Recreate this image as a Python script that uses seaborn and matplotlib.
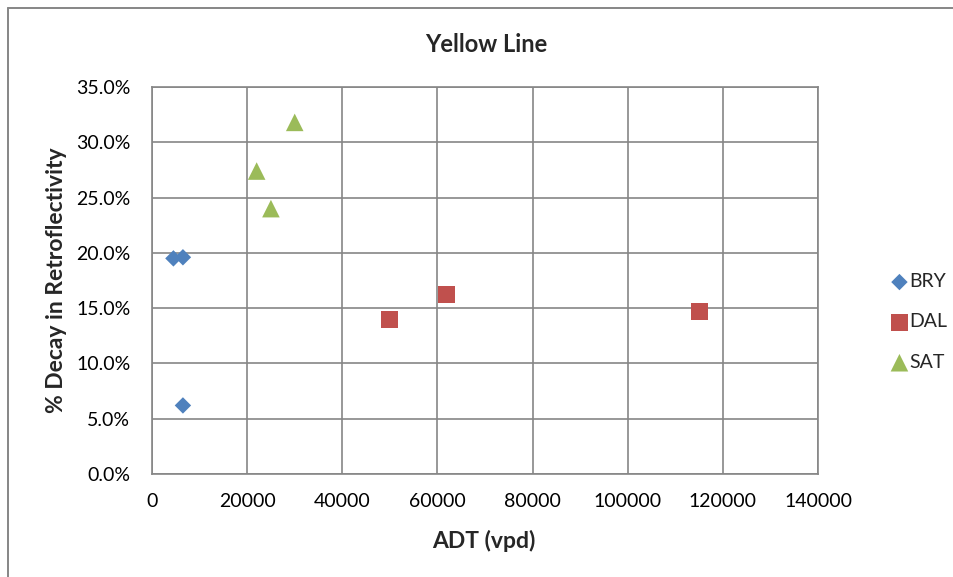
import matplotlib
matplotlib.use("Agg")
import matplotlib.pyplot as plt
import seaborn as sns
import pandas as pd
from matplotlib.ticker import FuncFormatter, MultipleLocator
from matplotlib.lines import Line2D

# ---- data ----
bry_adt = [4500, 6500, 6500]
bry_decay = [19.5, 19.6, 6.2]
dal_adt = [50000, 62000, 115000]
dal_decay = [14.0, 16.2, 14.7]
sat_adt = [30000, 22000, 25000]
sat_decay = [31.8, 27.4, 24.0]
groups = ["BRY", "DAL", "SAT"]
colors = {"BRY": "#4F81BD", "DAL": "#C0504D", "SAT": "#9BBB59"}
markers = {"BRY": "D", "DAL": "s", "SAT": "^"}
sizes = {"BRY": 70, "DAL": 150, "SAT": 160}

df = pd.concat([
    pd.DataFrame({"ADT": bry_adt, "Decay": bry_decay, "Site": "BRY"}),
    pd.DataFrame({"ADT": dal_adt, "Decay": dal_decay, "Site": "DAL"}),
    pd.DataFrame({"ADT": sat_adt, "Decay": sat_decay, "Site": "SAT"}),
], ignore_index=True)

sns.set_style("white")
plt.rcParams["font.family"] = ["Lato", "DejaVu Sans"]

W, H = 954, 577
fig = plt.figure(figsize=(W / 100, H / 100), dpi=100)
ax = fig.add_axes([152 / W, 1 - 474 / H, (818 - 152) / W, (474 - 87) / H])

gray = "#868686"
for g in groups:
    sub = df[df.Site == g]
    sns.scatterplot(data=sub, x="ADT", y="Decay", color=colors[g], marker=markers[g],
                    s=sizes[g], edgecolor="none", linewidth=0, ax=ax, label=g, zorder=3)

ax.set_xlim(0, 140000)
ax.set_ylim(0, 35)
ax.xaxis.set_major_locator(MultipleLocator(20000))
ax.yaxis.set_major_locator(MultipleLocator(5))
ax.yaxis.set_major_formatter(FuncFormatter(lambda v, p: f"{v:.1f}%"))
ax.grid(True, color=gray, linewidth=1.2)
ax.set_axisbelow(True)
for s in ax.spines.values():
    s.set_color(gray)
    s.set_linewidth(1.2)
ax.tick_params(axis="both", direction="out", length=3.6, width=1.2, color=gray,
               labelsize=14, labelcolor="black")
ax.tick_params(axis="y", pad=12)
ax.tick_params(axis="x", pad=10)

ax.set_xlabel("ADT (vpd)", fontsize=16.5, fontweight="bold")
ax.set_ylabel("% Decay in Retroflectivity", fontsize=16.5, fontweight="bold")
ax.xaxis.set_label_coords(484 / W, 1 - 541 / H, transform=fig.transFigure)
ax.yaxis.set_label_coords(57 / W, 1 - 280 / H, transform=fig.transFigure)
ax.xaxis.label.set_va("center")
ax.yaxis.label.set_va("center")
fig.text(486 / W, 1 - 44 / H, "Yellow Line", fontsize=17, fontweight="bold",
         ha="center", va="center")

leg = ax.legend(loc="center left", bbox_to_anchor=(880 / W, 1 - 322 / H),
                bbox_transform=fig.transFigure, frameon=False, fontsize=14,
                labelspacing=1.2, handletextpad=-0.1, handlelength=1.2,
                borderaxespad=0)

fig.add_artist(Line2D([8 / W, 8 / W], [0, 1 - 8 / H], transform=fig.transFigure,
                      color=gray, linewidth=1.4))
fig.add_artist(Line2D([8 / W, 1], [1 - 8 / H, 1 - 8 / H], transform=fig.transFigure,
                      color=gray, linewidth=1.4))

fig.savefig("out.png", dpi=100)
